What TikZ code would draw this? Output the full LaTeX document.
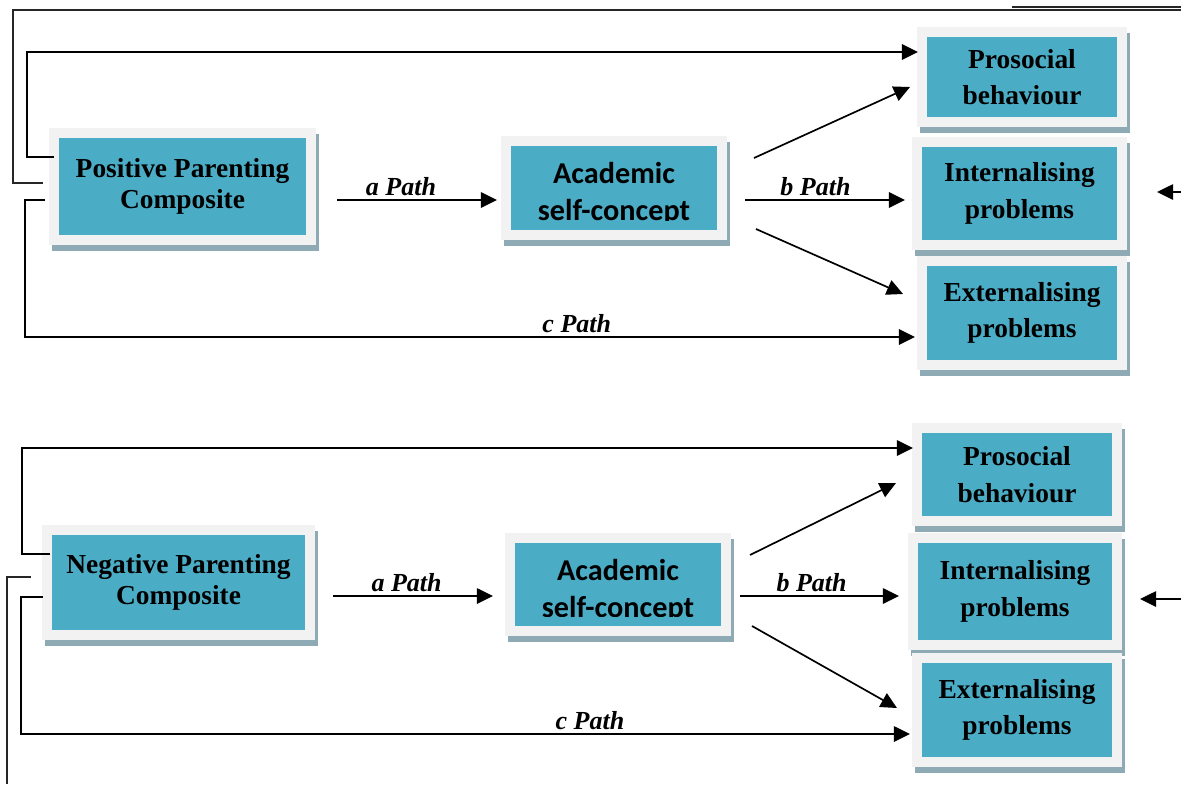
\documentclass[tikz,border=0pt]{standalone}
\usepackage{fontspec}
\setmainfont{Liberation Serif}
\newfontfamily\acadfont{Carlito}
\usetikzlibrary{calc,arrows.meta}
\definecolor{boxfill}{RGB}{75,172,198}
\definecolor{boxframe}{RGB}{242,242,242}
\definecolor{boxshade}{RGB}{142,170,180}
\tikzset{
  pbox/.style args={#1,#2}{
  rectangle,
  fill=boxfill,
  draw=boxframe,
  line width=7.1pt,
  outer sep=0pt,
  inner sep=0pt,
  align=center,
  minimum width=#1*0.025cm,
  minimum height=#2*0.025cm,
  font=\fontsize{19.5}{26}\selectfont\bfseries,
  preaction={draw=boxshade,fill=boxshade,transform canvas={xshift=2.1pt,yshift=-4.3pt}},
  },
  acadtxt/.style={align=center,inner sep=0pt,
  font=\fontsize{21.5}{26.3}\selectfont\acadfont\bfseries},
}
\begin{document}
\begin{tikzpicture}[x=0.025cm,y=-0.025cm,>={Triangle[length=11.5pt,width=11pt]},
  conn/.style={->,line width=1.2pt},
  loop/.style={line width=1pt,draw=black!85},
  plbl/.style={above,inner sep=2.5pt,font=\fontsize{18.5}{20}\selectfont\bfseries\itshape}]
\useasboundingbox (0,0) rectangle (1181,784);

% positive parenting model
\node[pbox={257,107},font=\fontsize{19.5}{22}\selectfont\bfseries] (pos) at (182.5,186.5) {Positive Parenting\\Composite};
\node[pbox={216,94}] (acad1) at (614,188) {};
\node[pbox={200,90}] (pro1) at (1022,77) {Prosocial\\behaviour};
\node[pbox={205,103}] (int1) at (1019.5,193.5) {Internalising\\problems};
\node[pbox={200,104}] (ext1) at (1022,313) {Externalising\\problems};
\begin{scope}
  \clip (acad1.north west) rectangle ($(acad1.east)+(0,32)$);
  \node[acadtxt] (acad1txt) at ($(acad1)+(0,6)$) {Academic\\self-concept};
\end{scope}

\draw[conn] ($(pos.east)+(26,13.5)$) -- node[plbl,pos=.4]{a Path} ($(acad1.west)+(-9,12)$);
\draw[conn] ($(acad1.east)+(23,12)$) -- node[plbl,pos=.44]{b Path} ($(int1.west)+(-12,6.5)$);
\draw[conn] ($(acad1.east)+(32,-30)$) -- ($(pro1.west)+(-12,10)$);
\draw[conn] ($(acad1.east)+(34,41)$) -- ($(ext1.west)+(-19,-19)$);
\draw[conn] ($(pos.west)+(-9,13.5)$) -- ++(-20,0) |- node[plbl,pos=.81]{c Path} ($(ext1.west)+(-7,24)$);
\draw[conn] ($(pos.west)+(0,-29.5)$) -- ++(-27,0) |- ($(pro1.west)+(-4,-25)$);
\coordinate (out1) at (1181,10);
\coordinate (out1b) at (1012,7);
\coordinate (out1c) at (1181,7);
\draw[loop] ($(pos.west)+(-11,-3.5)$) -- ++(-30,0) |- (out1);
\draw[loop] (out1b) -- (out1c);
\coordinate (in1) at (1181,192);
\draw[conn] (in1) -- ($(int1.east)+(35,-1.5)$);

% negative parenting model
\node[pbox={263,105},font=\fontsize{19.5}{22}\selectfont\bfseries] (neg) at (178.5,582.5) {Negative Parenting\\Composite};
\node[pbox={216,93}] (acad2) at (618,584.5) {};
\node[pbox={200,93}] (pro2) at (1017,474.5) {Prosocial\\behaviour};
\node[pbox={204,107}] (int2) at (1015,591.5) {Internalising\\problems};
\node[pbox={200,104}] (ext2) at (1017,710) {Externalising\\problems};
\begin{scope}
  \clip (acad2.north west) rectangle ($(acad2.east)+(0,32)$);
  \node[acadtxt] (acad2txt) at ($(acad2)+(0,6)$) {Academic\\self-concept};
\end{scope}

\draw[conn] ($(neg.east)+(23,13.5)$) -- node[plbl,pos=.46]{a Path} ($(acad2.west)+(-17,11.5)$);
\draw[conn] ($(acad2.east)+(14,11.5)$) -- node[plbl,pos=.45]{b Path} ($(int2.west)+(-14,4.5)$);
\draw[conn] ($(acad2.east)+(24,-29.5)$) -- ($(pro2.west)+(-21,8.5)$);
\draw[conn] ($(acad2.east)+(26,41.5)$) -- ($(ext2.west)+(-20,-2)$);
\draw[conn] ($(neg.west)+(-4,14.5)$) -- ++(-22,0) |- node[plbl,pos=.82]{c Path} ($(ext2.west)+(-7,24)$);
\draw[conn] ($(neg.west)+(3,-28.5)$) -- ++(-28,0) |- ($(pro2.west)+(-4,-26.5)$);
\coordinate (out2) at (7,784);
\draw[loop] ($(neg.west)+(-16,-5.5)$) -- ++(-24,0) -- (out2);
\coordinate (in2) at (1181,599);
\draw[conn] (in2) -- ($(int2.east)+(23,7.5)$);
\end{tikzpicture}
\end{document}
